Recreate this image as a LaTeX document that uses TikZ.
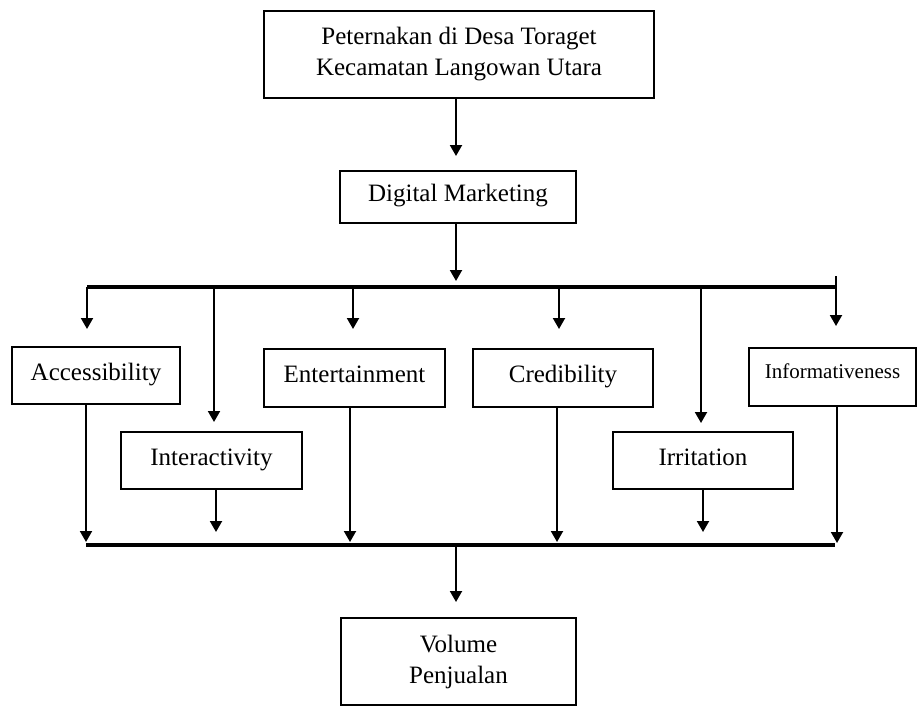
\documentclass[tikz,border=0pt]{standalone}
\usepackage{fontspec}
\setmainfont{Liberation Serif}
\usetikzlibrary{arrows.meta}
\begin{document}
\begin{tikzpicture}[x=1pt,y=-1pt,
  box/.style={draw,line width=2pt,inner sep=0pt,align=center,font=\fontsize{25}{31}\selectfont},
  onebox/.style={box,text height=17pt,text depth=8pt},
  arr/.style={line width=2pt,-{Triangle[width=12pt,length=11pt]}},
  bus/.style={line width=4.5pt}]
\useasboundingbox (0,0) rectangle (917,706);
\node[box,minimum width=390pt,minimum height=87pt] (top) at (459,54.5) {Peternakan di Desa Toraget\\Kecamatan Langowan Utara};
\node[onebox,minimum width=236pt,minimum height=52pt] (dm) at (458,197) {Digital Marketing};
\node[onebox,minimum width=168pt,minimum height=57pt] (acc) at (96,375.5) {Accessibility};
\node[onebox,minimum width=181pt,minimum height=57pt] (inter) at (211.5,460.5) {Interactivity};
\node[onebox,minimum width=181pt,minimum height=58pt] (ent) at (354.5,378) {Entertainment};
\node[onebox,minimum width=180pt,minimum height=58pt] (cred) at (563,378) {Credibility};
\node[onebox,minimum width=180pt,minimum height=57pt] (irr) at (703,460.5) {Irritation};
\node[box,minimum width=167pt,minimum height=58pt,text height=12pt,text depth=10pt,font=\fontsize{21}{25}\selectfont] (info) at (832.5,377) {Informativeness};
\node[box,minimum width=235pt,minimum height=87pt] (vol) at (458.5,661.5) {Volume\\Penjualan};
% buses
\coordinate (bL) at (87,287);
\coordinate (bR) at (836,287);
\coordinate (cL) at (86,545);
\coordinate (cR) at (835,545);
\draw[bus] (bL) -- (bR);
\draw[bus] (cL) -- (cR);
% top arrows
\draw[arr,shorten >=14pt] (456,0 |- top.south) -- (456,0 |- dm.north);
\draw[arr,shorten >=6pt] (456,0 |- dm.south) -- (456,0 |- bL);
% branch points on top bus
\coordinate (t1) at (87,287);
\coordinate (t2) at (214,287);
\coordinate (t3) at (353,287);
\coordinate (t4) at (559,287);
\coordinate (t5) at (701,287);
\coordinate (t6) at (836,276);
\draw[arr,shorten >=17pt] (t1) -- (t1 |- acc.north);
\draw[arr,shorten >=9pt] (t2) -- (t2 |- inter.north);
\draw[arr,shorten >=19pt] (t3) -- (t3 |- ent.north);
\draw[arr,shorten >=19pt] (t4) -- (t4 |- cred.north);
\draw[arr,shorten >=8pt] (t5) -- (t5 |- irr.north);
\draw[arr,shorten >=21pt] (t6) -- (t6 |- info.north);
% into bottom bus
\coordinate (u1) at (86,545);
\coordinate (u2) at (216,545);
\coordinate (u3) at (350,545);
\coordinate (u4) at (557,545);
\coordinate (u5) at (703,545);
\coordinate (u6) at (837,545);
\draw[arr,shorten >=3pt] (u1 |- acc.south) -- (u1);
\draw[arr,shorten >=13pt] (u2 |- inter.south) -- (u2);
\draw[arr,shorten >=3pt] (u3 |- ent.south) -- (u3);
\draw[arr,shorten >=3pt] (u4 |- cred.south) -- (u4);
\draw[arr,shorten >=13pt] (u5 |- irr.south) -- (u5);
\draw[arr,shorten >=2pt] (u6 |- info.south) -- (u6);
% to result
\draw[arr,shorten >=15pt] (456,0 |- cL) -- (456,0 |- vol.north);
\end{tikzpicture}
\end{document}
